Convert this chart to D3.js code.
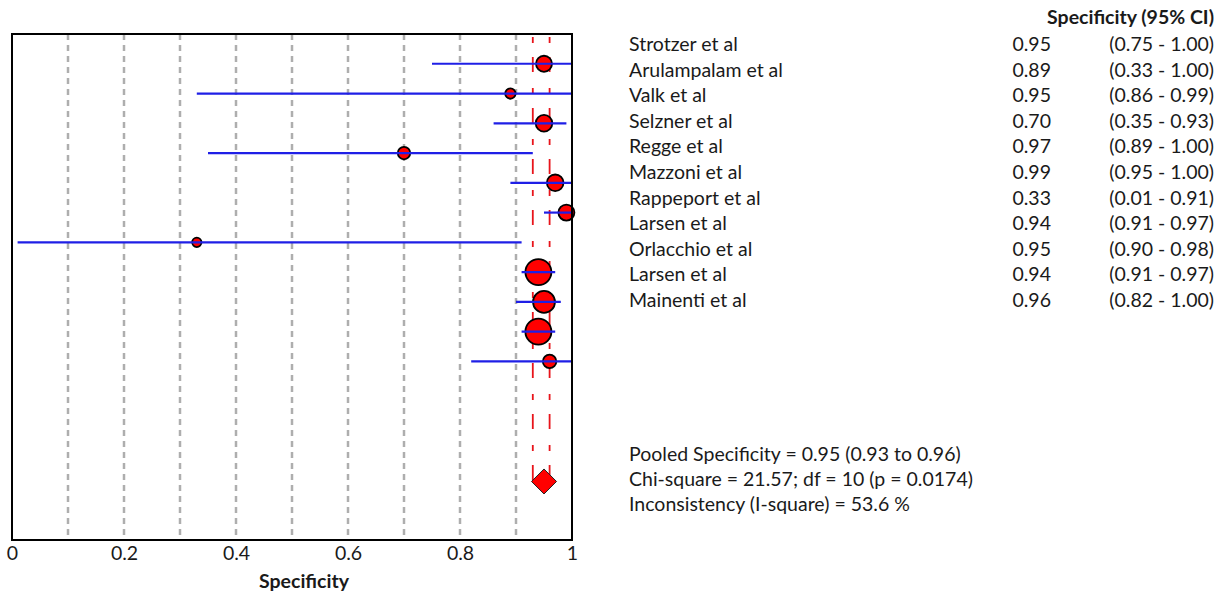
<!DOCTYPE html>
<html>
<head>
<meta charset="utf-8">
<script src="https://cdn.jsdelivr.net/npm/d3@7"></script>
<style>
  html, body { margin: 0; padding: 0; background: #fff; }
  svg { display: block; }
  text { font-family: Lato, "Open Sans", sans-serif; fill: #1a1a1a; }
</style>
</head>
<body>
<svg id="chart" width="1225" height="597"></svg>
<script>
const studies = ["Strotzer et al", "Arulampalam et al", "Valk et al", "Selzner et al", "Regge et al",
  "Mazzoni et al", "Rappeport et al", "Larsen et al", "Orlacchio et al", "Larsen et al", "Mainenti et al"];
const spec   = [0.95, 0.89, 0.95, 0.70, 0.97, 0.99, 0.33, 0.94, 0.95, 0.94, 0.96];
const ciLow  = [0.75, 0.33, 0.86, 0.35, 0.89, 0.95, 0.01, 0.91, 0.90, 0.91, 0.82];
const ciHigh = [1.00, 1.00, 0.99, 0.93, 1.00, 1.00, 0.91, 0.97, 0.98, 0.97, 1.00];
const weights = [38, 16, 41, 23, 41, 38, 13, 100, 71, 100, 27];   // relative study weights (marker area)
const pooled = { est: 0.95, lo: 0.93, hi: 0.96 };
const statsLines = [
  "Pooled Specificity = 0.95 (0.93 to 0.96)",
  "Chi-square = 21.57; df = 10 (p = 0.0174)",
  "Inconsistency (I-square) = 53.6 %"
];
const tableHeader = "Specificity (95% CI)";
const xTickValues = [0, 0.2, 0.4, 0.6, 0.8, 1];
const xTickLabels = ["0", "0.2", "0.4", "0.6", "0.8", "1"];
const gridValues = [0.1, 0.2, 0.3, 0.4, 0.5, 0.6, 0.7, 0.8, 0.9];
const xTitle = "Specificity";

const fmt2 = d3.format(".2f");
const svg = d3.select("#chart");

const plot = { left: 12, right: 572, top: 34, bottom: 540 };
const x = d3.scaleLinear().domain([0, 1]).range([plot.left, plot.right]);
const y = d3.scaleLinear().domain([-1, 16]).range([plot.top, plot.bottom]);
const r = d3.scaleSqrt().domain([0, 100]).range([0, 13]);
const pooledRow = 14;

// gridlines
svg.append("g").selectAll("line").data(gridValues).join("line")
  .attr("x1", d => x(d)).attr("x2", d => x(d))
  .attr("y1", plot.top).attr("y2", plot.bottom)
  .attr("stroke", "#aeaeae").attr("stroke-width", 2.5)
  .attr("stroke-dasharray", "6,5");

// pooled CI dashed red lines
svg.append("g").selectAll("line").data([pooled.lo, pooled.hi]).join("line")
  .attr("x1", d => x(d)).attr("x2", d => x(d))
  .attr("y1", 37).attr("y2", y(pooledRow))
  .attr("stroke", "#e8141b").attr("stroke-width", 1.8)
  .attr("stroke-dasharray", "6,14,15,16");

const idx = d3.range(studies.length);

// markers
svg.append("g").selectAll("circle").data(idx).join("circle")
  .attr("cx", i => x(spec[i])).attr("cy", i => y(i))
  .attr("r", i => r(weights[i]))
  .attr("fill", "#ff0000").attr("stroke", "#000").attr("stroke-width", 1.8);

// CI lines
svg.append("g").selectAll("line").data(idx).join("line")
  .attr("x1", i => x(ciLow[i])).attr("x2", i => x(ciHigh[i]))
  .attr("y1", i => y(i)).attr("y2", i => y(i))
  .attr("stroke", "#1f1fe6").attr("stroke-width", 2.2);

// pooled diamond
const dx = 12.5, dy = 12.5;
const px = x(pooled.est), py = y(pooledRow) + 1;
svg.append("path")
  .attr("d", `M${px - dx},${py} L${px},${py - dy} L${px + dx},${py} L${px},${py + dy} Z`)
  .attr("fill", "#ff0000").attr("stroke", "#222").attr("stroke-width", 1);

// frame
svg.append("rect")
  .attr("x", plot.left).attr("y", plot.top)
  .attr("width", plot.right - plot.left).attr("height", plot.bottom - plot.top)
  .attr("fill", "none").attr("stroke", "#000").attr("stroke-width", 2);

// x axis
const axis = d3.axisBottom(x).tickValues(xTickValues)
  .tickFormat((d, i) => xTickLabels[i]).tickSize(0).tickPadding(0);
const ax = svg.append("g").attr("transform", `translate(0,${plot.bottom})`).call(axis);
ax.select(".domain").remove();
ax.selectAll("text").attr("font-size", "19.5px").attr("dy", "1.05em")
  .style("font-family", "Lato, 'Open Sans', sans-serif").attr("fill", "#1a1a1a");

svg.append("text").attr("x", 304).attr("y", 588)
  .attr("text-anchor", "middle").attr("font-size", "19.5px").attr("font-weight", "bold")
  .text(xTitle);

// right table
const fs = "19.5px";
const rowY = d3.scaleLinear().domain([0, 1]).range([44, 69.6]);
svg.append("text").attr("x", 1214).attr("y", 24).attr("text-anchor", "end")
  .attr("font-size", "19.5px").attr("font-weight", "bold").text(tableHeader);

const tbl = svg.append("g");
tbl.selectAll("text.name").data(idx).join("text").attr("class", "name")
  .attr("x", 629).attr("y", i => rowY(i)).attr("dy", "0.36em")
  .attr("font-size", fs).text(i => studies[i]);
tbl.selectAll("text.val").data(idx).join("text").attr("class", "val")
  .attr("x", 1051).attr("y", i => rowY(i)).attr("dy", "0.36em").attr("text-anchor", "end")
  .attr("font-size", fs).text(i => fmt2(spec[i]));
tbl.selectAll("text.ci").data(idx).join("text").attr("class", "ci")
  .attr("x", 1214).attr("y", i => rowY(i)).attr("dy", "0.36em").attr("text-anchor", "end")
  .attr("font-size", fs).text(i => `(${fmt2(ciLow[i])} - ${fmt2(ciHigh[i])})`);

// stats
svg.append("g").selectAll("text").data(statsLines).join("text")
  .attr("x", 629).attr("y", (d, i) => 454 + i * 25).attr("dy", "0.36em")
  .attr("font-size", fs).text(d => d);
</script>
</body>
</html>
